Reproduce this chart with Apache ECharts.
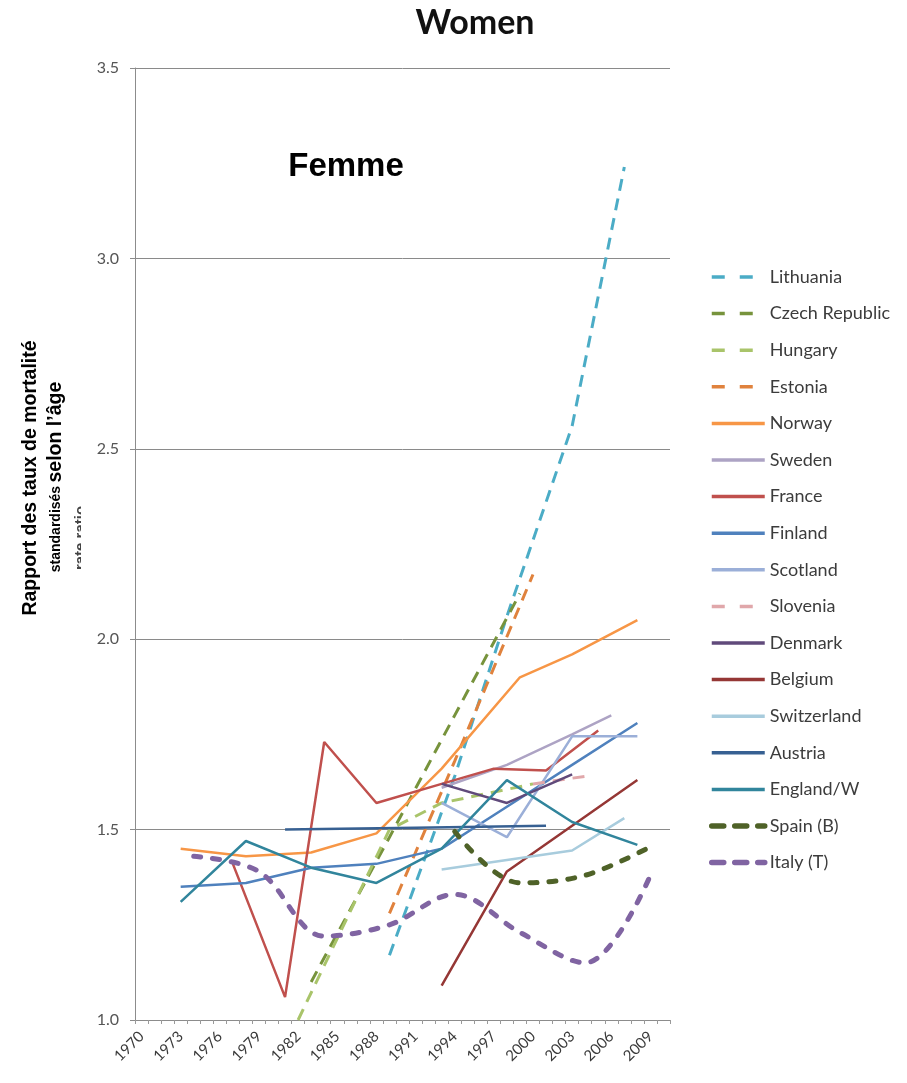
<!DOCTYPE html>
<html>
<head>
<meta charset="utf-8">
<script src="https://cdn.jsdelivr.net/npm/echarts@6/dist/echarts.min.js"></script>
<style>
  html, body { margin: 0; padding: 0; background: #ffffff; }
  #chart { width: 907px; height: 1083px; }
</style>
</head>
<body>
<div id="chart"></div>
<script>
// Category years on the horizontal axis (one slot per year)
const years = [];
for (let y = 1970; y <= 2010; y++) years.push(String(y));

// Y-axis tick values
const yTicks = [1.0, 1.5, 2.0, 2.5, 3.0, 3.5];

// Rate ratios per country: [year, ratio]
const lithuania   = [[1989, 1.17], [1994, 1.64], [1998, 2.06], [2003, 2.56], [2007, 3.24]];
const czech       = [[1983, 1.10], [1989, 1.48], [1994, 1.80], [1999, 2.12]];
const hungary     = [[1982, 1.00], [1989, 1.50], [1993, 1.57], [2000, 1.62]];
const estonia     = [[1989, 1.28], [1994, 1.68], [2000, 2.17]];
const norway      = [[1973, 1.45], [1978, 1.43], [1983, 1.44], [1988, 1.49], [1993, 1.66], [1999, 1.90], [2003, 1.96], [2008, 2.05]];
const sweden      = [[1993, 1.61], [1998, 1.67], [2003, 1.75], [2006, 1.80]];
const france      = [[1977, 1.41], [1981, 1.06], [1984, 1.73], [1988, 1.57], [1993, 1.62], [1997, 1.66], [2001, 1.655], [2005, 1.76]];
const finland     = [[1973, 1.35], [1978, 1.36], [1983, 1.40], [1988, 1.41], [1993, 1.45], [1998, 1.56], [2003, 1.67], [2008, 1.78]];
const scotland    = [[1993, 1.57], [1998, 1.48], [2003, 1.745], [2008, 1.745]];
const slovenia    = [[2000, 1.62], [2004, 1.64]];
const denmark     = [[1993, 1.62], [1998, 1.57], [2003, 1.645]];
const belgium     = [[1993, 1.09], [1998, 1.39], [2003, 1.51], [2008, 1.63]];
const switzerland = [[1993, 1.395], [1998, 1.42], [2003, 1.445], [2007, 1.53]];
const austria     = [[1981, 1.50], [1991, 1.505], [2001, 1.51]];
const england     = [[1973, 1.31], [1978, 1.47], [1983, 1.40], [1988, 1.36], [1993, 1.45], [1998, 1.63], [2003, 1.52], [2008, 1.46]];
const spain       = [[1994, 1.495], [1999, 1.36], [2004, 1.38], [2009, 1.455]];
const italy       = [[1974, 1.43], [1979, 1.39], [1984, 1.22], [1989, 1.25], [1994, 1.33], [1999, 1.23], [2004, 1.15], [2009, 1.38]];

const labelFont = 'Lato, "Open Sans", sans-serif';
const boldSans = '"Liberation Sans", Arial, sans-serif';

// Line looks: name, data, colour, width, dash, cap, smooth, legend style
const dashThin = [12, 8];
const dashThick = [7, 12];
const seriesDefs = [
  ['Lithuania',      lithuania,   '#4BACC6', 3,   dashThin,  'butt',  false, 'thin'],
  ['Czech Republic', czech,       '#77933C', 3,   dashThin,  'butt',  false, 'thin'],
  ['Hungary',        hungary,     '#A9C46A', 3,   dashThin,  'butt',  false, 'thin'],
  ['Estonia',        estonia,     '#E0823D', 3,   dashThin,  'butt',  false, 'thin'],
  ['Norway',         norway,      '#F79646', 2.5, null,      'butt',  false, 'solid'],
  ['Sweden',         sweden,      '#ADA3C4', 2.5, null,      'butt',  false, 'solid'],
  ['France',         france,      '#C0504D', 2.5, null,      'butt',  false, 'solid'],
  ['Finland',        finland,     '#4F81BD', 2.5, null,      'butt',  false, 'solid'],
  ['Scotland',       scotland,    '#9BAFD8', 2.5, null,      'butt',  false, 'solid'],
  ['Slovenia',       slovenia,    '#E0A7AA', 3,   dashThin,  'butt',  false, 'thin'],
  ['Denmark',        denmark,     '#604A7B', 2.5, null,      'butt',  false, 'solid'],
  ['Belgium',        belgium,     '#953735', 2.5, null,      'butt',  false, 'solid'],
  ['Switzerland',    switzerland, '#A8CCDD', 2.5, null,      'butt',  false, 'solid'],
  ['Austria',        austria,     '#376092', 2.5, null,      'butt',  false, 'solid'],
  ['England/W',      england,     '#31859C', 2.5, null,      'butt',  false, 'solid'],
  ['Spain (B)',      spain,       '#4F6228', 5,   dashThick, 'round', true,  'thick'],
  ['Italy (T)',      italy,       '#8064A2', 5,   dashThick, 'round', true,  'thick']
];

// Legend swatch strokes
const legendLine = {
  thin:  { width: 3.5, type: [13, 15], cap: 'butt' },
  solid: { width: 3.5, type: 'solid', cap: 'butt' },
  thick: { width: 5.5, type: [12, 11], cap: 'round' }
};

const series = seriesDefs.map(([name, pts, color, width, dash, cap, smooth]) => ({
  name: name,
  type: 'line',
  data: pts.map(p => [String(p[0]), p[1]]),
  symbol: 'none',
  smooth: smooth ? 0.35 : false,
  color: color,
  lineStyle: { color: color, width: width, type: dash ? dash : 'solid', cap: cap },
  emphasis: { disabled: true }
}));

const legendData = seriesDefs.map(d => ({
  name: d[0],
  lineStyle: Object.assign({ color: d[2] }, legendLine[d[7]])
}));

const chart = echarts.init(document.getElementById('chart'), null, { renderer: 'canvas' });

chart.setOption({
  backgroundColor: '#ffffff',
  animation: false,
  grid: { left: 135, right: 237, top: 68, bottom: 63, containLabel: false },
  xAxis: {
    type: 'category',
    data: years,
    boundaryGap: true,
    axisLine: { lineStyle: { color: '#8c8c8c', width: 1 } },
    axisTick: { show: true, interval: 0, length: 4, lineStyle: { color: '#9a9a9a' } },
    axisLabel: {
      interval: 2,
      rotate: 45,
      margin: 14,
      color: '#3a3a3a',
      fontFamily: labelFont,
      fontSize: 15
    },
    splitLine: { show: false }
  },
  yAxis: {
    type: 'value',
    min: yTicks[0],
    max: yTicks[yTicks.length - 1],
    interval: 0.5,
    axisLine: { show: true, lineStyle: { color: '#8c8c8c', width: 1 } },
    axisTick: { show: true, length: 5, lineStyle: { color: '#8c8c8c' } },
    axisLabel: {
      margin: 16,
      color: '#555555',
      fontFamily: labelFont,
      fontSize: 16,
      formatter: v => v.toFixed(1)
    },
    splitLine: { show: true, lineStyle: { color: '#8a8a8a', width: 1 } }
  },
  legend: {
    orient: 'vertical',
    left: 709,
    top: 268,
    padding: 0,
    itemWidth: 53,
    itemHeight: 18,
    itemGap: 18.6,
    itemStyle: { color: 'transparent', borderColor: 'transparent', borderWidth: 0, opacity: 0 },
    textStyle: { color: '#3c3c3c', fontFamily: labelFont, fontSize: 18, lineHeight: 18 },
    data: legendData
  },
  graphic: [
    {
      type: 'text',
      x: 475, y: 23,
      style: { text: 'Women', fill: '#111111', font: 'bold 34px Lato, sans-serif', textAlign: 'center', textVerticalAlign: 'middle' }
    },
    {
      type: 'text',
      x: 346, y: 167,
      style: { text: 'Femme', fill: '#000000', font: 'bold 33px ' + boldSans, textAlign: 'center', textVerticalAlign: 'middle' }
    },
    {
      type: 'text',
      x: 31, y: 478,
      rotation: Math.PI / 2,
      style: { text: 'Rapport des taux de mortalité', fill: '#000000', font: 'bold 19.5px ' + boldSans, textAlign: 'center', textVerticalAlign: 'middle' }
    },
    {
      type: 'text',
      x: 56, y: 477,
      rotation: Math.PI / 2,
      style: {
        text: '{s|standardisés} {b|selon l’âge}',
        textAlign: 'center',
        textVerticalAlign: 'middle',
        rich: {
          s: { fill: '#000000', font: 'bold 14px ' + boldSans },
          b: { fill: '#000000', font: 'bold 19.5px ' + boldSans }
        }
      }
    },
    // partly covered older axis caption, only its edge shows
    {
      type: 'text',
      x: 81, y: 538,
      rotation: Math.PI / 2,
      style: { text: 'rate ratio', fill: '#444444', font: 'bold 15px ' + boldSans, textAlign: 'center', textVerticalAlign: 'middle' }
    },
    {
      type: 'rect',
      shape: { x: 81, y: 480, width: 16, height: 120 },
      style: { fill: '#ffffff' }
    }
  ],
  series: series
});
</script>
</body>
</html>
